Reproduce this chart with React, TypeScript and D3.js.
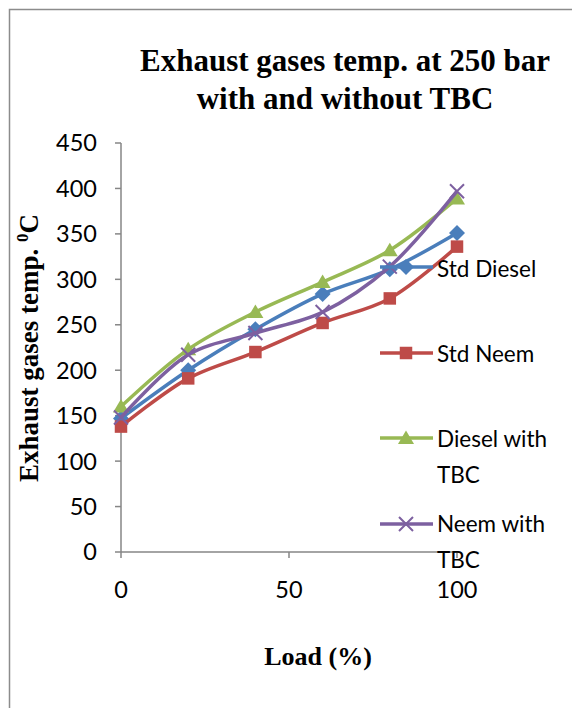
import * as d3 from 'd3';

const loads = [0, 20, 40, 60, 80, 100];
const stdDiesel = [147, 200, 245, 284, 311, 351];
const stdNeem = [138, 191, 220, 252, 279, 336];
const dieselTBC = [160, 223, 264, 297, 332, 389];
const neemTBC = [148, 217, 241, 264, 314, 397];
const yTicks = [0, 50, 100, 150, 200, 250, 300, 350, 400, 450];
const xTicks = [0, 50, 100];

const series = [
  { name: ['Std Diesel'], values: stdDiesel, color: '#4A7EBB', marker: 'diamond' },
  { name: ['Std Neem'], values: stdNeem, color: '#BE4B48', marker: 'square' },
  { name: ['Diesel with', 'TBC'], values: dieselTBC, color: '#98B954', marker: 'triangle' },
  { name: ['Neem with', 'TBC'], values: neemTBC, color: '#7D60A0', marker: 'x' },
];

const W = 572;
const H = 708;
const axisColor = '#868686';
const sans = 'Lato, "Open Sans", sans-serif';
const serif = '"Liberation Serif", "Times New Roman", serif';

const x = d3.scaleLinear().domain([0, 100]).range([121, 457]);
const y = d3.scaleLinear().domain([0, 450]).range([552, 143]);

const line = d3
  .line<number>()
  .x((d, i) => x(loads[i]))
  .y((d) => y(d))
  .curve(d3.curveCatmullRom.alpha(0.5));

const Marker = ({ kind, cx, cy, color }: { kind: string; cx: number; cy: number; color: string }) => {
  if (kind === 'diamond') {
    const r = 8;
    return <path d={`M${cx},${cy - r}L${cx + r},${cy}L${cx},${cy + r}L${cx - r},${cy}Z`} fill={color} />;
  }
  if (kind === 'square') {
    return <rect x={cx - 6.25} y={cy - 6.25} width={12.5} height={12.5} fill={color} />;
  }
  if (kind === 'triangle') {
    return <path d={`M${cx},${cy - 7.5}L${cx + 8},${cy + 6}L${cx - 8},${cy + 6}Z`} fill={color} />;
  }
  const r = 7;
  return (
    <path
      d={`M${cx - r},${cy - r}L${cx + r},${cy + r}M${cx - r},${cy + r}L${cx + r},${cy - r}`}
      stroke={color}
      strokeWidth={2}
      fill="none"
    />
  );
};

// legend rows: marker line y, first-line baseline
const legendRows = [
  { ly: 267, by: 277 },
  { ly: 353, by: 362 },
  { ly: 438, by: 447 },
  { ly: 524, by: 532 },
];

export default function App() {
  return (
    <svg width={W} height={H} style={{ position: 'absolute', left: 0, top: 0, background: '#fff' }}>
      <path d={`M9.5,${H}V9.5H${W}`} stroke="#8c8c8c" strokeWidth={1.5} fill="none" />

      <text x={345} y={71} textAnchor="middle" fontFamily={serif} fontWeight="bold" fontSize={31}>
        Exhaust gases temp. at 250 bar
      </text>
      <text x={345} y={109} textAnchor="middle" fontFamily={serif} fontWeight="bold" fontSize={31}>
        with and without TBC
      </text>

      {/* axes */}
      <line x1={x(0)} x2={x(0)} y1={y(450)} y2={y(0)} stroke={axisColor} strokeWidth={1.5} />
      <line x1={x(0)} x2={x(100)} y1={y(0)} y2={y(0)} stroke={axisColor} strokeWidth={1.5} />
      {yTicks.map((t) => (
        <g key={t}>
          <line x1={x(0) - 6} x2={x(0)} y1={y(t)} y2={y(t)} stroke={axisColor} strokeWidth={1.5} />
          <text x={97} y={y(t)} dy="0.36em" textAnchor="end" fontFamily={sans} fontSize={23.5}>
            {t}
          </text>
        </g>
      ))}
      {xTicks.map((t) => (
        <g key={t}>
          <line x1={x(t)} x2={x(t)} y1={y(0)} y2={y(0) + 6} stroke={axisColor} strokeWidth={1.5} />
          <text x={x(t)} y={598} textAnchor="middle" fontFamily={sans} fontSize={23.5}>
            {t}
          </text>
        </g>
      ))}

      <text x={318} y={665} textAnchor="middle" fontFamily={serif} fontWeight="bold" fontSize={26}>
        Load (%)
      </text>
      <text
        transform="translate(38,348) rotate(-90)"
        textAnchor="middle"
        fontFamily={serif}
        fontWeight="bold"
        fontSize={27}
      >
        Exhaust gases temp.{' '}
        <tspan fontSize={17} dy={-10}>
          0
        </tspan>
        <tspan dy={10}>C</tspan>
      </text>

      {/* series */}
      {series.map((s) => (
        <g key={s.name.join(' ')}>
          <path d={line(s.values) || ''} fill="none" stroke={s.color} strokeWidth={3.5} />
          {s.values.map((v, i) => (
            <Marker key={i} kind={s.marker} cx={x(loads[i])} cy={y(v)} color={s.color} />
          ))}
        </g>
      ))}

      {/* legend */}
      {series.map((s, i) => {
        const r = legendRows[i];
        return (
          <g key={s.name.join(' ')}>
            <line x1={380} x2={433} y1={r.ly} y2={r.ly} stroke={s.color} strokeWidth={3.5} />
            <Marker kind={s.marker} cx={406} cy={r.ly} color={s.color} />
            {s.name.map((n, j) => (
              <text key={n} x={437} y={r.by + j * 36} fontFamily={sans} fontSize={22.5}>
                {n}
              </text>
            ))}
          </g>
        );
      })}
    </svg>
  );
}
